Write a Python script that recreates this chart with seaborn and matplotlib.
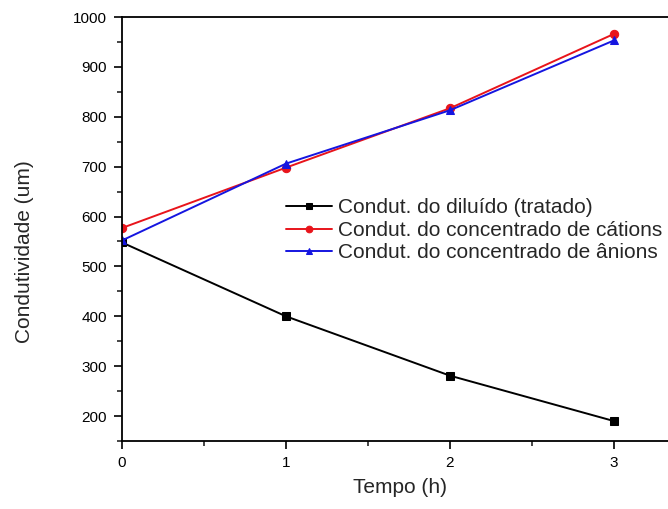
import matplotlib
matplotlib.use("Agg")
import matplotlib.pyplot as plt
import seaborn as sns
import pandas as pd
from matplotlib.ticker import MultipleLocator

sns.set_style("ticks")
plt.rcParams["font.family"] = ["Liberation Sans", "DejaVu Sans"]

tempo = [0, 1, 2, 3]
diluido = [548, 400, 281, 190]
cations = [577, 698, 817, 966]
anions = [552, 706, 813, 953]
labels = ["Condut. do diluído (tratado)",
          "Condut. do concentrado de cátions",
          "Condut. do concentrado de ânions"]
colors = ["black", "#e8141b", "#1515e0"]
markers = ["s", "o", "^"]

fig = plt.figure(figsize=(6.68, 5.09), dpi=100)
ax = fig.add_axes([0.1826, 0.1336, 0.8174, 0.833])

for vals, lab, col, mk in zip([diluido, cations, anions], labels, colors, markers):
    df = pd.DataFrame({"Tempo": tempo, "Cond": vals})
    sns.lineplot(data=df, x="Tempo", y="Cond", ax=ax, color=col, marker=mk,
                 markersize=6, markeredgecolor=col, linewidth=1.4, label=lab)

ax.set_xlim(0, 3.33)
ax.set_ylim(150, 1000)
ax.xaxis.set_major_locator(MultipleLocator(1))
ax.xaxis.set_minor_locator(MultipleLocator(0.5))
ax.set_yticks(range(200, 1001, 100))
ax.yaxis.set_minor_locator(MultipleLocator(50))
ax.tick_params(axis="both", which="major", direction="out", length=6, width=1.2,
               labelsize=11, colors="black", pad=5)
ax.tick_params(axis="both", which="minor", direction="out", length=3.5, width=1.2)
ax.spines["right"].set_visible(False)
for s in ["left", "bottom", "top"]:
    ax.spines[s].set_linewidth(1.3)
    ax.spines[s].set_color("black")

ax.set_xlabel("Tempo (h)", fontsize=15)
ax.set_ylabel("Condutividade (um)", fontsize=15)
ax.xaxis.set_label_coords(0.509, -0.088)
ax.yaxis.set_label_coords(-0.162, 0.447)

leg = ax.legend(loc="upper left", bbox_to_anchor=(0.30, 0.572), frameon=False,
                fontsize=15, handlelength=2.2, handletextpad=0.3,
                labelspacing=0.16, borderaxespad=0, borderpad=0,
                markerscale=0.8)

fig.savefig("out.png", dpi=100)
